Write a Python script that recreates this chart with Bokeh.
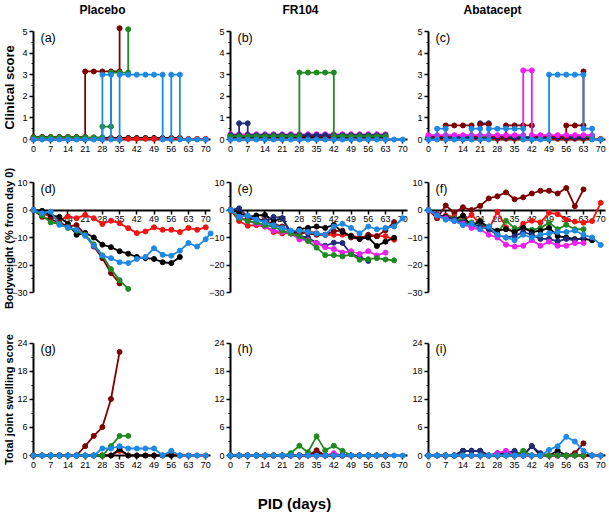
import math
from bokeh.plotting import figure
from bokeh.models import LinearAxis, FixedTicker, Range1d, Label
from bokeh.embed import file_html
from bokeh.resources import INLINE

# ---------------- data ----------------
DAYS = [0, 3.5, 7, 10.5, 14, 17.5, 21, 24.5, 28, 31.5, 35, 38.5, 42, 45.5, 49, 52.5, 56, 59.5, 63, 66.5, 70]
X_TICKS = [0, 7, 14, 21, 28, 35, 42, 49, 56, 63, 70]
GROUPS = ["Placebo", "FR104", "Abatacept"]
ROW_TITLES = ["Clinical score", "Bodyweight (% from day 0)", "Total joint swelling score"]
X_TITLE = "PID (days)"
LETTERS = [["(a)", "(b)", "(c)"], ["(d)", "(e)", "(f)"], ["(g)", "(h)", "(i)"]]
Y_TICKS = [[0, 1, 2, 3, 4, 5], [-30, -20, -10, 0, 10], [0, 6, 12, 18, 24]]
Y_MINOR = [[0.5, 1.5, 2.5, 3.5, 4.5], [-25, -15, -5, 5], [3, 9, 15, 21]]

COLORS = dict(darkred="#7F0000", green="#1F8A1F", blue="#1E88E5", red="#F01414",
              black="#000000", magenta="#EE1EEE", navy="#1F2D78")

# (a) Placebo clinical score
A_DARKRED_X = [0, 3.5, 7, 10.5, 14, 17.5, 21, 21, 24.5, 28, 31.5, 35, 35]
A_DARKRED_Y = [0.12, 0.12, 0.12, 0.12, 0.12, 0.12, 0.12, 3.15, 3.15, 3.15, 3.15, 3.15, 5.15]
A_GREEN_X = [0, 3.5, 7, 10.5, 14, 17.5, 21, 24.5, 28, 28, 31.5, 31.5, 35, 38.5, 38.5]
A_GREEN_Y = [0.1, 0.1, 0.1, 0.1, 0.1, 0.1, 0.1, 0.1, 0.1, 0.6, 0.6, 3.1, 3.1, 3.1, 5.1]
A_BLACK_Y = [0.07, 0.07, 0.07, 0.07, 0.07, 0.07, 0.07, 0.07, 0.07, 0.07, 0.07, 0.07, 0.07, 0.07, 0.07, 0.07, 0.07, 0.07]
A_RED_Y = [0.03, 0.03, 0.03, 0.03, 0.03, 0.03, 0.03, 0.03, 0.03, 0.03, 0.03, 0.03, 0.03, 0.03, 0.03, 0.03, 0.03, 0.03, 0.03, 0.03, 0.03]
A_BLUE_X = [0, 3.5, 7, 10.5, 14, 17.5, 21, 24.5, 28, 28, 31.5, 31.5, 35, 35, 38.5, 42, 45.5, 49, 52.5, 52.5, 56, 56, 59.5, 59.5, 63, 66.5, 70]
A_BLUE_Y = [0, 0, 0, 0, 0, 0, 0, 0, 0, 3, 3, 0, 0, 3, 3, 3, 3, 3, 3, 0, 0, 3, 3, 0, 0, 0, 0]

# (b) FR104 clinical score
B_NAVY_X = [0, 3.5, 3.5, 7, 7, 10.5, 14, 17.5, 21, 24.5, 28, 31.5, 35, 38.5, 42, 45.5, 49, 52.5, 56, 59.5, 63]
B_NAVY_Y = [0.2, 0.2, 0.75, 0.75, 0.2, 0.2, 0.2, 0.2, 0.2, 0.2, 0.2, 0.2, 0.2, 0.2, 0.2, 0.2, 0.2, 0.2, 0.2, 0.2, 0.2]
B_GREEN_X = [0, 3.5, 7, 10.5, 14, 17.5, 21, 24.5, 28, 28, 31.5, 35, 38.5, 42, 42, 45.5, 49, 52.5, 56, 59.5, 63]
B_GREEN_Y = [0.15, 0.15, 0.15, 0.15, 0.15, 0.15, 0.15, 0.15, 0.15, 3.1, 3.1, 3.1, 3.1, 3.1, 0.15, 0.15, 0.15, 0.15, 0.15, 0.15, 0.15]
B_DARKRED_Y = [0.16, 0.16, 0.16, 0.16, 0.16, 0.16, 0.16, 0.16, 0.16, 0.16, 0.16, 0.16, 0.16, 0.16, 0.16, 0.16, 0.16, 0.16, 0.16]
B_BLACK_Y = [0.11, 0.11, 0.11, 0.11, 0.11, 0.11, 0.11, 0.11, 0.11, 0.11, 0.11, 0.11, 0.11, 0.11, 0.11, 0.11, 0.11, 0.11, 0.11]
B_MAGENTA_Y = [0.24, 0.24, 0.24, 0.24, 0.24, 0.24, 0.24, 0.24, 0.24, 0.24, 0.24, 0.24, 0.24, 0.24, 0.24, 0.24, 0.24, 0.24, 0.24]
B_RED_Y = [0.06, 0.06, 0.06, 0.06, 0.06, 0.06, 0.06, 0.06, 0.06, 0.06, 0.06, 0.06, 0.06, 0.06, 0.06, 0.06, 0.06, 0.06, 0.06]
B_BLUE_Y = [0, 0, 0, 0, 0, 0, 0, 0, 0, 0, 0, 0, 0, 0, 0, 0, 0, 0, 0, 0, 0]

# (c) Abatacept clinical score
C_BLUE_X = [0, 3.5, 3.5, 7, 7, 10.5, 14, 17.5, 17.5, 21, 21, 24.5, 24.5, 28, 31.5, 35, 38.5, 38.5, 42, 45.5, 49, 49, 52.5, 56, 59.5, 63, 63, 66.5, 66.5, 70]
C_BLUE_Y = [0, 0, 0.5, 0.5, 0, 0, 0, 0, 0.5, 0.5, 0, 0, 0.5, 0.5, 0.5, 0.5, 0.5, 0, 0, 0, 0, 3, 3, 3, 3, 3, 0.5, 0.5, 0, 0]
C_DARKRED_X = [0, 3.5, 7, 7, 10.5, 14, 17.5, 17.5, 21, 21, 24.5, 24.5, 28, 31.5, 31.5, 35, 38.5, 42, 42, 45.5, 49, 52.5, 56, 56, 59.5, 63, 63]
C_DARKRED_Y = [0.15, 0.15, 0.15, 0.65, 0.65, 0.65, 0.65, 0.15, 0.15, 0.7, 0.7, 0.15, 0.15, 0.15, 0.65, 0.65, 0.65, 0.65, 0.15, 0.15, 0.15, 0.15, 0.15, 0.65, 0.65, 0.65, 3.15]
C_MAGENTA_X = [0, 3.5, 7, 10.5, 14, 17.5, 21, 24.5, 28, 31.5, 35, 38.5, 38.5, 42, 42, 45.5, 49, 52.5, 56, 59.5, 63, 66.5]
C_MAGENTA_Y = [0.2, 0.2, 0.2, 0.2, 0.2, 0.2, 0.2, 0.2, 0.2, 0.2, 0.2, 0.2, 3.2, 3.2, 0.2, 0.2, 0.2, 0.2, 0.2, 0.2, 0.2, 0.2]
C_NAVY_X = [0, 3.5, 7, 10.5, 14, 17.5, 21, 21, 24.5, 24.5, 28, 31.5, 35, 38.5, 42, 45.5, 49, 52.5, 56, 59.5, 63]
C_NAVY_Y = [0.1, 0.1, 0.1, 0.1, 0.1, 0.1, 0.1, 0.75, 0.75, 0.1, 0.1, 0.1, 0.1, 0.1, 0.1, 0.1, 0.1, 0.1, 0.1, 0.1, 0.1]
C_GREEN_Y = [0.12, 0.12, 0.12, 0.12, 0.12, 0.12, 0.12, 0.12, 0.12, 0.12, 0.12, 0.12, 0.12, 0.12, 0.12, 0.12, 0.12, 0.12, 0.12, 0.12]
C_BLACK_Y = [0.08, 0.08, 0.08, 0.08, 0.08, 0.08, 0.08, 0.08, 0.08, 0.08, 0.08, 0.08, 0.08, 0.08, 0.08, 0.08, 0.08, 0.08, 0.08, 0.08]
C_RED_Y = [0.03, 0.03, 0.03, 0.03, 0.03, 0.03, 0.03, 0.03, 0.03, 0.03, 0.03, 0.03, 0.03, 0.03, 0.03, 0.03, 0.03, 0.03, 0.03, 0.03, 0.03]

# (d) Placebo bodyweight
D_RED = [0, -1.2, -2.4, -3.6, -2.4, -3, -1.8, -3, -5.1, -3.9, -4.8, -6.6, -8.4, -7.8, -6.3, -7.2, -7.2, -8, -6.5, -7.2, -6.3]
D_BLACK = [0, -0.3, -2, -2.5, -5, -9, -8.3, -10, -12.6, -13.5, -15, -15.9, -17.1, -17.5, -17.8, -19, -19.3, -17.1]
D_DARKRED = [0, -2.5, -3.5, -4.5, -6, -5.5, -9, -13.3, -17.5, -22.9, -26.7]
D_GREEN = [0, -2, -4.5, -5, -6.5, -7.5, -9, -12.5, -16.5, -21.5, -25.5, -28.7]
D_BLUE_X = [0, 3.5, 7, 10.5, 14, 17.5, 21, 24.5, 28, 31.5, 35, 38.5, 42, 45.5, 49, 52.5, 56, 59.5, 63, 66.5, 70, 72]
D_BLUE = [0, -1.2, -0.6, -5.4, -6.3, -7.2, -9.4, -13, -16.6, -17.5, -19, -19.3, -17.8, -17.1, -13.9, -16.3, -16.6, -14.8, -12, -13.3, -10.6, -8.5]

# (e) FR104 bodyweight
E_BLUE = [0, -2.5, -2, -3.5, -4.5, -5.5, -6.5, -7.5, -7.5, -8, -8.5, -9, -6, -5, -6.5, -8.5, -6, -7, -6.5, -6, -3]
E_RED = [0, -4, -5.7, -5.5, -6, -8, -8.5, -8.5, -9, -7.5, -8.5, -9, -9, -9, -9.3, -10, -9.5, -9.5, -9.5, -10.8]
E_GREEN = [0, -3, -4, -4.5, -5.5, -6, -7.5, -8.5, -9.5, -11.3, -13.7, -16.4, -16.4, -16.9, -16.1, -18.1, -17.9, -17.5, -18, -18.3]
E_MAGENTA = [0, -2.5, -4, -5, -6, -7.5, -8, -8.5, -10.7, -11, -12, -13.5, -14.2, -15.5, -15, -16, -15, -16.5, -15.5]
E_DARKRED = [0, -3, -3.5, -3, -4, -5, -6, -8, -8, -8.5, -9, -9, -7.7, -7.5, -10, -10.5, -9, -9.5, -7.4, -4.4]
E_BLACK = [0, -1, -2.5, -2, -1.8, -4, -3, -8.5, -7, -6.5, -6, -6.5, -5.4, -8, -9.5, -10.5, -10, -13.1, -11.5, -10.1]
E_NAVY = [0, 0.6, -2.5, -3.5, -4, -2.5, -3, -8, -9.5, -10, -12, -13, -11.9, -12, -16, -17, -18.5]

# (f) Abatacept bodyweight
F_DARKRED = [0, -3, 1.6, -1, 1, 0, 1.5, 4.2, 5, 6.4, 3.9, 4.6, 6, 7, 7, 6, 8, 1.4, 7.5]
F_RED = [0, -2.5, -2, -2.5, -4, -1.8, -5, -7, -0.6, -6.3, -8.2, -5, -3.9, -4.5, -1, -1.5, -3.5, -4.2, -4.6, -4, 2.6]
F_GREEN = [0, -2, -2.5, -3, -4, -4.5, -5, -6, -8.5, -3.9, -6.6, -6.5, -7.2, -6.5, -4.6, -7, -5.4, -7, -7]
F_BLACK = [0, -2, -2.5, -3.5, -2, -6, -4, -6.5, -7.5, -7, -8, -6.5, -8, -7.5, -6.5, -9.5, -10, -10.6, -10.5, -11]
F_NAVY = [0, -1.5, -3, -3.5, -4.5, -5.5, -6, -7, -9, -10, -9.5, -8, -9, -10.5, -10.5, -11.4, -10.5, -11, -10]
F_MAGENTA = [0, -2, -3, -4, -5, -6.5, -7, -9, -10, -12.6, -13.3, -13, -11, -13, -11.5, -13, -13, -12, -12]
F_BLUE = [0, -2, -3.5, -4, -5.5, -5, -7, -6, -9, -10, -11, -9, -10, -9, -8.5, -8, -8, -7.5, -9, -10, -12.7]

# (g) Placebo joint swelling
G_DARKRED = [0, 0, 0, 0, 0, 0, 2, 4.2, 6.1, 12.1, 22.2]
G_GREEN = [0, 0, 0, 0, 0, 0, 0, 0, 0, 2, 4.2, 4.2]
G_BLACK = [0, 0, 0, 0, 0, 0, 0, 0, 0, 0, 1.4, 0, 0, 0, 0, 0, 0, 0]
G_RED = [0, 0, 0, 0, 0, 0, 0, 0, 0, 0, 1, 0, 0, 0, 0, 0, 0.3, 0, 0, 0, 0]
G_BLUE = [0, 0, 0, 0, 0, 0, 0, 0, 1.5, 1.5, 2, 1.5, 1.5, 1.5, 1.5, 0, 1, 0, 0, 0, 0]

# (h) FR104 joint swelling
H_GREEN = [0, 0, 0, 0, 0, 0, 0, 0.5, 2.1, 0.7, 4.1, 1.1, 2.1, 1, 0, 0, 0, 0, 0]
H_DARKRED = [0, 0, 0, 0, 0, 0, 0, 0, 0, 0, 1.1, 0, 0, 0, 0, 0, 0, 0, 0]
H_BLACK = [0, 0, 0, 0, 0, 0, 0, 0, 0, 0, 0.6, 0, 0, 0, 0, 0, 0, 0, 0]
H_RED = [0, 0, 0, 0, 0, 0, 0, 0, 0, 0, 0, 0, 0, 0, 0, 0, 0, 0, 0]
H_MAGENTA = [0, 0, 0, 0, 0, 0, 0, 0, 0, 0, 0, 0, 0.5, 0, 0, 0, 0, 0, 0]
H_NAVY = [0, 0, 0, 0, 0, 0, 0, 0, 0, 0, 0, 0, 0.3, 0, 0, 0, 0, 0, 0]
H_BLUE = [0, 0, 0, 0, 0, 0, 0, 0, 0, 0, 0, 0, 0, 0, 0, 0, 0, 0, 0, 0, 0]

# (i) Abatacept joint swelling
I_NAVY = [0, 0, 0, 0, 1, 1, 1, 0, 0, 0.5, 1, 0, 2, 0.5, 0, 0, 0]
I_BLACK = [0, 0, 0, 0, 1, 1, 1, 0, 0.5, 0.5, 0.5, 0, 2, 0, 0, 1, 0, 0, 0, 0]
I_MAGENTA = [0, 0, 0, 0, 0, 0, 0, 0, 0.5, 1, 0, 0, 0, 0, 0, 0, 0, 0, 0]
I_GREEN = [0, 0, 0, 0, 0, 0, 0, 0, 0, 0, 0, 1, 0, 0, 0, 0, 0, 0, 0]
I_BLUE = [0, 0, 0, 0, 0, 0, 0, 0, 0, 0, 0, 0, 0, 0, 1.2, 2, 4, 3, 1, 0, 0]
I_DARKRED = [0, 0, 0, 0, 0, 0, 0, 0, 0, 0, 0, 0, 0, 0, 0, 0, 0, 0.5, 2.6]
I_RED = [0, 0, 0, 0, 0, 0, 0, 0, 0, 0, 0, 0, 0, 0, 0, 0, 0, 0, 0, 0, 0]


def d(ys):
    return DAYS[:len(ys)]


SERIES = [
    [  # row 1: clinical score
        [("black", d(A_BLACK_Y), A_BLACK_Y), ("red", d(A_RED_Y), A_RED_Y),
         ("darkred", A_DARKRED_X, A_DARKRED_Y), ("green", A_GREEN_X, A_GREEN_Y),
         ("blue", A_BLUE_X, A_BLUE_Y)],
        [("red", d(B_RED_Y), B_RED_Y), ("black", d(B_BLACK_Y), B_BLACK_Y),
         ("darkred", d(B_DARKRED_Y), B_DARKRED_Y), ("magenta", d(B_MAGENTA_Y), B_MAGENTA_Y),
         ("navy", B_NAVY_X, B_NAVY_Y), ("green", B_GREEN_X, B_GREEN_Y),
         ("blue", d(B_BLUE_Y), B_BLUE_Y)],
        [("red", d(C_RED_Y), C_RED_Y), ("black", d(C_BLACK_Y), C_BLACK_Y),
         ("green", d(C_GREEN_Y), C_GREEN_Y), ("navy", C_NAVY_X, C_NAVY_Y),
         ("darkred", C_DARKRED_X, C_DARKRED_Y), ("magenta", C_MAGENTA_X, C_MAGENTA_Y),
         ("blue", C_BLUE_X, C_BLUE_Y)],
    ],
    [  # row 2: bodyweight
        [("red", d(D_RED), D_RED), ("black", d(D_BLACK), D_BLACK),
         ("darkred", d(D_DARKRED), D_DARKRED), ("green", d(D_GREEN), D_GREEN),
         ("blue", D_BLUE_X, D_BLUE)],
        [("red", d(E_RED), E_RED), ("darkred", d(E_DARKRED), E_DARKRED),
         ("black", d(E_BLACK), E_BLACK), ("navy", d(E_NAVY), E_NAVY),
         ("magenta", d(E_MAGENTA), E_MAGENTA), ("green", d(E_GREEN), E_GREEN),
         ("blue", d(E_BLUE), E_BLUE)],
        [("darkred", d(F_DARKRED), F_DARKRED), ("red", d(F_RED), F_RED),
         ("green", d(F_GREEN), F_GREEN), ("black", d(F_BLACK), F_BLACK),
         ("navy", d(F_NAVY), F_NAVY), ("magenta", d(F_MAGENTA), F_MAGENTA),
         ("blue", d(F_BLUE), F_BLUE)],
    ],
    [  # row 3: joint swelling
        [("red", d(G_RED), G_RED), ("black", d(G_BLACK), G_BLACK),
         ("darkred", d(G_DARKRED), G_DARKRED), ("green", d(G_GREEN), G_GREEN),
         ("blue", d(G_BLUE), G_BLUE)],
        [("red", d(H_RED), H_RED), ("black", d(H_BLACK), H_BLACK),
         ("navy", d(H_NAVY), H_NAVY), ("magenta", d(H_MAGENTA), H_MAGENTA),
         ("darkred", d(H_DARKRED), H_DARKRED), ("green", d(H_GREEN), H_GREEN),
         ("blue", d(H_BLUE), H_BLUE)],
        [("red", d(I_RED), I_RED), ("darkred", d(I_DARKRED), I_DARKRED),
         ("black", d(I_BLACK), I_BLACK), ("navy", d(I_NAVY), I_NAVY),
         ("magenta", d(I_MAGENTA), I_MAGENTA), ("green", d(I_GREEN), I_GREEN),
         ("blue", d(I_BLUE), I_BLUE)],
    ],
]

# ---------------- geometry (page pixel coordinates) ----------------
FONT = "Liberation Sans"
PAGE = 0                       # the bokeh page template has no body margin
W, H = 608, 514                # figure size
K = 2.46                       # px per day
COL_X0 = [33, 230, 428]        # page x of day 0 in each column
ROW_Y0 = [139, 209.5, 455]     # page y of value 0 in each row
ROW_S = [21.6, 2.75, 4.667]    # px per y unit
Y_BOUNDS = [(0, 5), (-30, 10), (0, 24)]
GROUP_X = [102, 300, 492]
GROUP_Y = 9
ROW_TITLE_X = 8.5
ROW_TITLE_Y = [87, 238, 399]
ROW_TITLE_SIZE = ["13px", "11px", "11px"]
X_TITLE_POS = (294, 503)

# default ranges map directly to page pixels (y downwards)
p = figure(width=W, height=H, x_range=Range1d(PAGE, PAGE + W), y_range=Range1d(PAGE + H, PAGE),
           x_axis_type=None, y_axis_type=None, toolbar_location=None, output_backend="svg",
           title_location=None, min_border=0)
p.outline_line_color = None
p.background_fill_color = "white"
p.border_fill_color = "white"

for c in range(3):
    x0 = COL_X0[c]
    p.extra_x_ranges[f"x{c}"] = Range1d((PAGE - x0) / K, (PAGE + W - x0) / K)
for r in range(3):
    y0, s = ROW_Y0[r], ROW_S[r]
    p.extra_y_ranges[f"y{r}"] = Range1d(-(PAGE + H - y0) / s, (y0 - PAGE) / s)


def style_axis(ax):
    ax.axis_line_width = 2
    ax.axis_line_color = "black"
    ax.major_tick_line_width = 1.5
    ax.major_tick_out = 4
    ax.major_tick_in = 0
    ax.minor_tick_line_width = 1.2
    ax.minor_tick_out = 2
    ax.minor_tick_in = 0
    ax.major_label_text_font = FONT
    ax.major_label_text_font_size = "9px"
    ax.major_label_text_color = "black"
    ax.major_label_standoff = 2


for r in range(3):
    for c in range(3):
        xr, yr = f"x{c}", f"y{r}"
        xa = LinearAxis(x_range_name=xr, y_range_name=yr, fixed_location=0, bounds=(0, 72),
                        ticker=FixedTicker(ticks=X_TICKS, minor_ticks=[]), level="underlay")
        style_axis(xa)
        if r == 1:
            xa.major_label_overrides = {0: ""}
        p.add_layout(xa, "below")

        ya = LinearAxis(x_range_name=xr, y_range_name=yr, fixed_location=0, bounds=Y_BOUNDS[r],
                        ticker=FixedTicker(ticks=Y_TICKS[r], minor_ticks=Y_MINOR[r]), level="underlay")
        style_axis(ya)
        p.add_layout(ya, "left")

        for cname, xs, ys in SERIES[r][c]:
            col = COLORS[cname]
            p.line(xs, ys, line_color=col, line_width=1.8, x_range_name=xr, y_range_name=yr)
            p.scatter(xs, ys, size=5, fill_color=col, line_color=col,
                      x_range_name=xr, y_range_name=yr)

        p.add_layout(Label(x=0, y=Y_BOUNDS[r][1], x_range_name=xr, y_range_name=yr,
                           x_offset=7, y_offset=1, text=LETTERS[r][c], text_baseline="top",
                           text_font=FONT, text_font_size="12.5px", text_color="black"))

for c in range(3):
    p.add_layout(Label(x=GROUP_X[c], y=GROUP_Y, text=GROUPS[c], text_align="center",
                       text_baseline="middle", text_font=FONT, text_font_size="12px",
                       text_font_style="bold", text_color="black"))
for r in range(3):
    p.add_layout(Label(x=ROW_TITLE_X, y=ROW_TITLE_Y[r], text=ROW_TITLES[r], angle=math.pi / 2,
                       text_align="center", text_baseline="middle", text_font=FONT,
                       text_font_size=ROW_TITLE_SIZE[r], text_font_style="bold",
                       text_color="black"))
p.add_layout(Label(x=X_TITLE_POS[0], y=X_TITLE_POS[1], text=X_TITLE, text_align="center",
                   text_baseline="middle", text_font=FONT, text_font_size="15px",
                   text_font_style="bold", text_color="black"))

with open("out.html", "w") as f:
    f.write(file_html(p, INLINE))
